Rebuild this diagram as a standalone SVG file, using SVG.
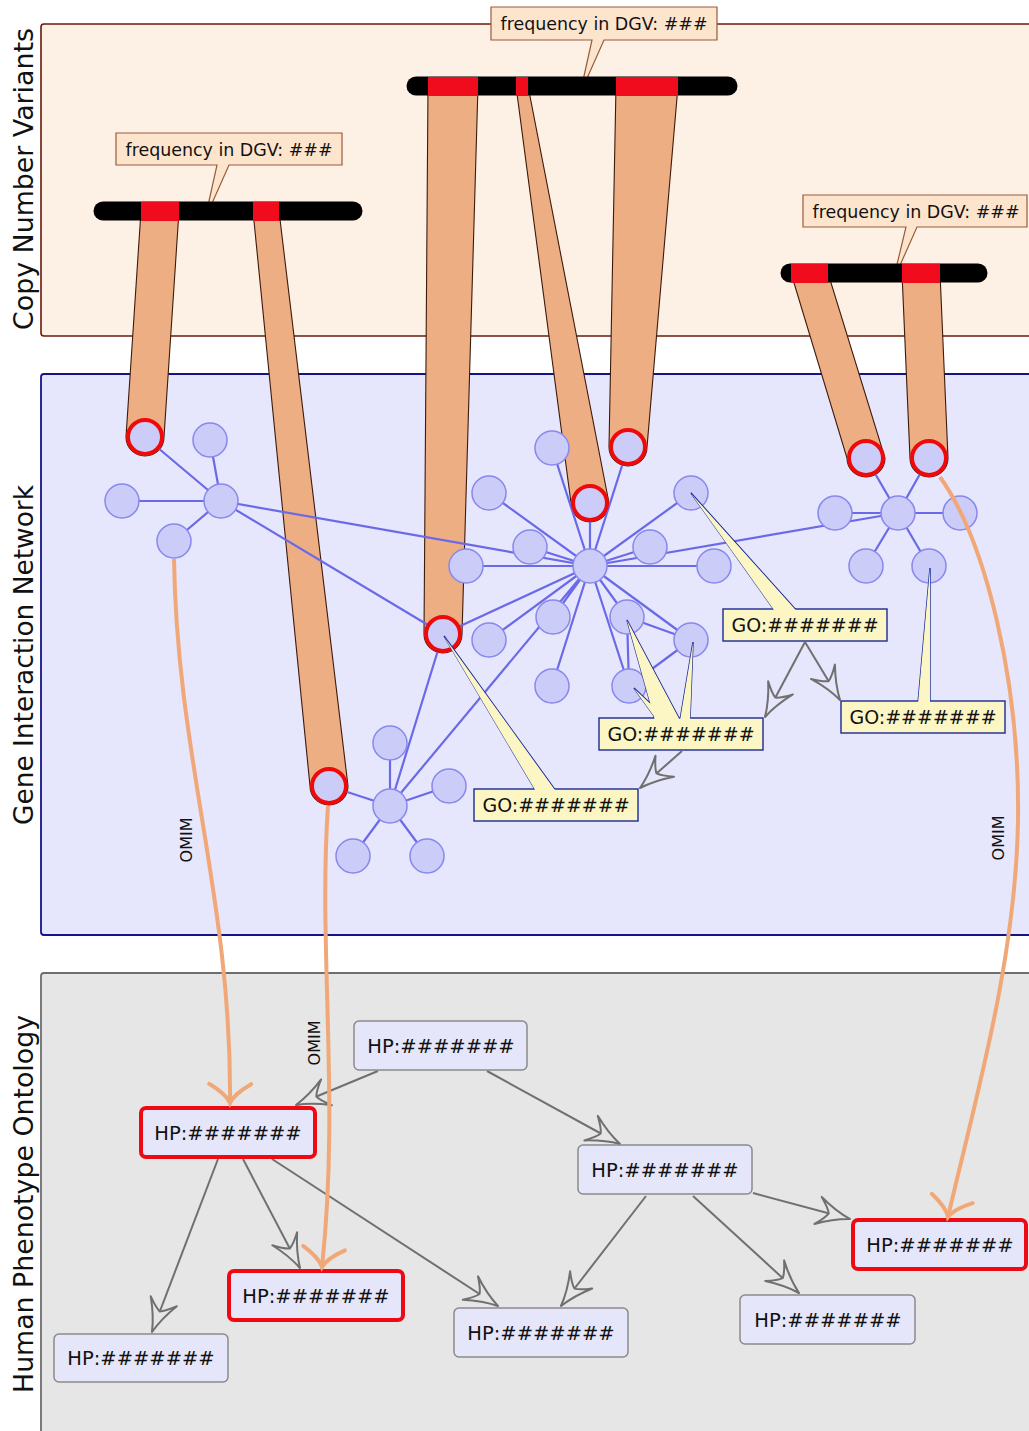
<svg xmlns="http://www.w3.org/2000/svg" width="1029" height="1431" viewBox="0 0 1029 1431">
  <style>
    text { font-family: "DejaVu Sans", "Liberation Sans", Arial, sans-serif; fill: #111; }
    .side { font-size: 26px; }
    .cnv-panel { fill: #fdf0e4; stroke: #6a1a0a; stroke-width: 1.6; }
    .gin-panel { fill: #e6e6fc; stroke: #14148a; stroke-width: 1.8; }
    .hpo-panel { fill: #e6e6e6; stroke: #6e6e6e; stroke-width: 1.8; }
    .tube { fill: #eeae84; stroke: #3c1a0c; stroke-width: 1.1; }
    .bar { stroke: #000; stroke-width: 19; stroke-linecap: round; }
    .seg { fill: #f00c1c; }
    .freq { fill: #fde5cd; stroke: #9a5a3a; stroke-width: 1.2; }
    .freq-t { font-size: 17.5px; }
    .edge { stroke: #6a6ae8; stroke-width: 2.2; fill: none; }
    .node { fill: #ccccf9; stroke: #8888ee; stroke-width: 1.5; }
    .hit { fill: #ccccf9; stroke: #ee0a0a; stroke-width: 4; }
    .go { fill: #fcf6c4; stroke: #1a2a96; stroke-width: 1.4; }
    .go-fill { fill: #fcf6c4; stroke: none; }
    .go-t { font-size: 19px; }
    .hp { fill: #e6e6fa; stroke: #8a8a8a; stroke-width: 1.5; }
    .hp-hit { fill: #e6e6fa; stroke: #ee0a14; stroke-width: 4; }
    .hp-t { font-size: 19.5px; }
    .isa { stroke: #707070; stroke-width: 2; fill: none; }
    .omim { stroke: #f0a878; stroke-width: 4; fill: none; }
    .omim-t { font-size: 16px; }
  </style>
  <defs>
    <marker id="isa-hp" markerUnits="userSpaceOnUse" viewBox="-36 -17 40 34" markerWidth="40" markerHeight="34" refX="0" refY="0" orient="auto" overflow="visible">
      <path d="M0,0 Q-16,-4 -33,-14 Q-24,-5 -22,0 Q-24,5 -33,14 Q-16,4 0,0 Z" fill="#e6e6e6" stroke="#707070" stroke-width="2" stroke-linejoin="round"/>
    </marker>
    <marker id="isa-go" markerUnits="userSpaceOnUse" viewBox="-36 -17 40 34" markerWidth="40" markerHeight="34" refX="0" refY="0" orient="auto" overflow="visible">
      <path d="M0,0 Q-16,-4 -33,-14 Q-24,-5 -22,0 Q-24,5 -33,14 Q-16,4 0,0 Z" fill="#e6e6fc" stroke="#707070" stroke-width="2" stroke-linejoin="round"/>
    </marker>
    <marker id="omim-head" markerUnits="userSpaceOnUse" viewBox="-24 -24 28 48" markerWidth="28" markerHeight="48" refX="0" refY="0" orient="auto" overflow="visible">
      <path d="M-19,-21 Q-9,-4 0,0 Q-9,4 -19,21" fill="none" stroke="#f0a878" stroke-width="4" stroke-linecap="round"/>
    </marker>
  </defs>

  <rect width="1029" height="1431" fill="#fff"/>

  <!-- layer panels -->
  <g id="panels">
    <rect class="cnv-panel" x="41" y="24" width="1100" height="312" rx="3"/>
    <rect class="gin-panel" x="41" y="374" width="1100" height="561" rx="3"/>
    <rect class="hpo-panel" x="41" y="973" width="1100" height="520" rx="3"/>
    <text class="side" transform="translate(33,179) rotate(-90)" text-anchor="middle" textLength="302" lengthAdjust="spacingAndGlyphs">Copy Number Variants</text>
    <text class="side" transform="translate(33,655) rotate(-90)" text-anchor="middle" textLength="340" lengthAdjust="spacingAndGlyphs">Gene Interaction Network</text>
    <text class="side" transform="translate(33,1204) rotate(-90)" text-anchor="middle" textLength="378" lengthAdjust="spacingAndGlyphs">Human Phenotype Ontology</text>
  </g>

  <!-- CNV bands projected onto affected genes -->
  <g id="tubes">
    <path class="tube" d="M141,211 L179,211 L164,437 A19,19 0 0 1 126,437 Z"/>
    <path class="tube" d="M253,211 L279,211 L348,786 A19,19 0 0 1 310,786 Z"/>
    <path class="tube" d="M428,86 L478,86 L462,634 A19,19 0 0 1 424,634 Z"/>
    <path class="tube" d="M516,86 L528,86 L609,503 A19,19 0 0 1 571,503 Z"/>
    <path class="tube" d="M616,86 L678,86 L647,447 A19,19 0 0 1 609,447 Z"/>
    <path class="tube" d="M791,273 L828,273 L885,458 A19,19 0 0 1 847,458 Z"/>
    <path class="tube" d="M902,273 L940,273 L948,458 A19,19 0 0 1 910,458 Z"/>
  </g>

  <!-- DGV frequency callouts -->
  <g id="freq-callouts">
    <g id="freq-1">
      <path class="freq" d="M491,7 H717 V40 H604 L580,94 L592,40 H491 Z"/>
      <text class="freq-t" x="604" y="30" text-anchor="middle" textLength="207" lengthAdjust="spacingAndGlyphs">frequency in DGV: ###</text>
    </g>
    <g id="freq-2">
      <path class="freq" d="M116,133 H342 V165 H229 L205,219 L217,165 H116 Z"/>
      <text class="freq-t" x="229" y="156" text-anchor="middle" textLength="207" lengthAdjust="spacingAndGlyphs">frequency in DGV: ###</text>
    </g>
    <g id="freq-3">
      <path class="freq" d="M803,195 H1027 V227 H917 L893,281 L906,227 H803 Z"/>
      <text class="freq-t" x="916" y="218" text-anchor="middle" textLength="207" lengthAdjust="spacingAndGlyphs">frequency in DGV: ###</text>
    </g>
  </g>

  <!-- chromosomes with CNV segments -->
  <g id="chromosomes">
    <g id="chr-1">
      <line class="bar" x1="103" y1="211" x2="353" y2="211"/>
      <rect class="seg" x="141" y="202" width="38" height="19"/>
      <rect class="seg" x="253" y="202" width="26" height="19"/>
    </g>
    <g id="chr-2">
      <line class="bar" x1="416" y1="86" x2="728" y2="86"/>
      <rect class="seg" x="428" y="77" width="50" height="19"/>
      <rect class="seg" x="516" y="77" width="12" height="19"/>
      <rect class="seg" x="616" y="77" width="62" height="19"/>
    </g>
    <g id="chr-3">
      <line class="bar" x1="790" y1="273" x2="978" y2="273"/>
      <rect class="seg" x="791" y="264" width="37" height="19"/>
      <rect class="seg" x="902" y="264" width="38" height="19"/>
    </g>
  </g>

  <!-- interaction edges -->
  <g id="interactions">
    <path class="edge" d="M221,501 L145,437 M221,501 L210,440 M221,501 L122,501 M221,501 L174,541
      M221,501 L590,566 M221,501 L443,634
      M590,566 L552,448 M590,566 L590,503 M590,566 L628,447 M590,566 L489,493 M590,566 L530,547
      M590,566 L466,566 M590,566 L650,547 M590,566 L691,493 M590,566 L714,566 M590,566 L443,634
      M590,566 L489,640 M590,566 L553,617 M590,566 L552,686 M590,566 L627,617 M590,566 L629,686
      M590,566 L691,640 M627,617 L691,640 M627,617 L629,686 M629,686 L691,640
      M590,566 L898,513 M590,566 L390,806 M443,634 L390,806
      M898,513 L866,458 M898,513 L929,458 M898,513 L835,513 M898,513 L960,513 M898,513 L866,566 M898,513 L929,566
      M390,806 L329,786 M390,806 L390,743 M390,806 L449,786 M390,806 L353,856 M390,806 L427,856"/>
  </g>

  <!-- genes -->
  <g id="genes">
    <g id="cluster-a">
      <circle class="node" cx="221" cy="501" r="17"/>
      <circle class="hit" cx="145" cy="437" r="17"/>
      <circle class="node" cx="210" cy="440" r="17"/>
      <circle class="node" cx="122" cy="501" r="17"/>
      <circle class="node" cx="174" cy="541" r="17"/>
    </g>
    <g id="cluster-b">
      <circle class="node" cx="590" cy="566" r="17"/>
      <circle class="node" cx="552" cy="448" r="17"/>
      <circle class="hit" cx="590" cy="503" r="17"/>
      <circle class="hit" cx="628" cy="447" r="17"/>
      <circle class="node" cx="489" cy="493" r="17"/>
      <circle class="node" cx="530" cy="547" r="17"/>
      <circle class="node" cx="466" cy="566" r="17"/>
      <circle class="node" cx="650" cy="547" r="17"/>
      <circle class="node" cx="691" cy="493" r="17"/>
      <circle class="node" cx="714" cy="566" r="17"/>
      <circle class="hit" cx="443" cy="634" r="17"/>
      <circle class="node" cx="489" cy="640" r="17"/>
      <circle class="node" cx="553" cy="617" r="17"/>
      <circle class="node" cx="552" cy="686" r="17"/>
      <circle class="node" cx="627" cy="617" r="17"/>
      <circle class="node" cx="629" cy="686" r="17"/>
      <circle class="node" cx="691" cy="640" r="17"/>
    </g>
    <g id="cluster-c">
      <circle class="node" cx="898" cy="513" r="17"/>
      <circle class="hit" cx="866" cy="458" r="17"/>
      <circle class="hit" cx="929" cy="458" r="17"/>
      <circle class="node" cx="835" cy="513" r="17"/>
      <circle class="node" cx="960" cy="513" r="17"/>
      <circle class="node" cx="866" cy="566" r="17"/>
      <circle class="node" cx="929" cy="566" r="17"/>
    </g>
    <g id="cluster-d">
      <circle class="node" cx="390" cy="806" r="17"/>
      <circle class="hit" cx="329" cy="786" r="17"/>
      <circle class="node" cx="390" cy="743" r="17"/>
      <circle class="node" cx="449" cy="786" r="17"/>
      <circle class="node" cx="353" cy="856" r="17"/>
      <circle class="node" cx="427" cy="856" r="17"/>
    </g>
  </g>

  <!-- GO term annotations: pointer wedges, then boxes, then wedge fills over box edges -->
  <g id="go-terms">
    <g id="go-1">
      <path class="go" d="M691,493 L775,611 L797,611 Z"/>
      <rect class="go" x="723" y="609" width="164" height="32"/>
      <path class="go-fill" d="M691,493 L775,611 L797,611 Z" transform="translate(0,0.5)"/>
      <text class="go-t" x="805" y="632" text-anchor="middle">GO:#######</text>
    </g>
    <g id="go-2">
      <path class="go" d="M627,620 L655,720 L680,720 Z M634,688 L657,720 L668,720 Z M693,642 L680,720 L690,720 Z"/>
      <rect class="go" x="599" y="718" width="164" height="32"/>
      <path class="go-fill" d="M627,620 L655,720 L680,720 Z M634,688 L657,720 L668,720 Z M693,642 L680,720 L690,720 Z" transform="translate(0,0.5)"/>
      <text class="go-t" x="681" y="741" text-anchor="middle">GO:#######</text>
    </g>
    <g id="go-3">
      <path class="go" d="M930,568 L918,703 L930,703 Z"/>
      <rect class="go" x="841" y="701" width="164" height="32"/>
      <path class="go-fill" d="M930,568 L918,703 L930,703 Z" transform="translate(0,0.5)"/>
      <text class="go-t" x="923" y="724" text-anchor="middle">GO:#######</text>
    </g>
    <g id="go-4">
      <path class="go" d="M444,636 L536,791 L556,791 Z"/>
      <rect class="go" x="474" y="789" width="164" height="32"/>
      <path class="go-fill" d="M444,636 L536,791 L556,791 Z" transform="translate(0,0.5)"/>
      <text class="go-t" x="556" y="812" text-anchor="middle">GO:#######</text>
    </g>
  </g>

  <!-- GO is-a relations -->
  <g id="go-relations">
    <path class="isa" d="M805,642 L765,717" marker-end="url(#isa-go)"/>
    <path class="isa" d="M805,642 L840,700" marker-end="url(#isa-go)"/>
    <path class="isa" d="M682,751 L640,788" marker-end="url(#isa-go)"/>
  </g>

  <!-- HPO is-a relations -->
  <g id="hp-relations">
    <path class="isa" d="M378,1071 L296,1105" marker-end="url(#isa-hp)"/>
    <path class="isa" d="M487,1071 L620,1144" marker-end="url(#isa-hp)"/>
    <path class="isa" d="M218,1159 L152,1332" marker-end="url(#isa-hp)"/>
    <path class="isa" d="M243,1159 L300,1268" marker-end="url(#isa-hp)"/>
    <path class="isa" d="M272,1159 L498,1306" marker-end="url(#isa-hp)"/>
    <path class="isa" d="M646,1196 L561,1306" marker-end="url(#isa-hp)"/>
    <path class="isa" d="M693,1196 L799,1293" marker-end="url(#isa-hp)"/>
    <path class="isa" d="M753,1193 L850,1219" marker-end="url(#isa-hp)"/>
  </g>

  <!-- HPO terms -->
  <g id="hp-terms">
    <g id="hp-1">
      <rect class="hp" x="354" y="1021" width="173" height="49" rx="5"/>
      <text class="hp-t" x="441" y="1053" text-anchor="middle">HP:#######</text>
    </g>
    <g id="hp-2">
      <rect class="hp-hit" x="141" y="1108" width="174" height="49" rx="5"/>
      <text class="hp-t" x="228" y="1140" text-anchor="middle">HP:#######</text>
    </g>
    <g id="hp-3">
      <rect class="hp" x="578" y="1145" width="174" height="49" rx="5"/>
      <text class="hp-t" x="665" y="1177" text-anchor="middle">HP:#######</text>
    </g>
    <g id="hp-4">
      <rect class="hp-hit" x="853" y="1220" width="173" height="49" rx="5"/>
      <text class="hp-t" x="940" y="1252" text-anchor="middle">HP:#######</text>
    </g>
    <g id="hp-5">
      <rect class="hp" x="54" y="1334" width="174" height="48" rx="5"/>
      <text class="hp-t" x="141" y="1365" text-anchor="middle">HP:#######</text>
    </g>
    <g id="hp-6">
      <rect class="hp-hit" x="229" y="1271" width="174" height="49" rx="5"/>
      <text class="hp-t" x="316" y="1303" text-anchor="middle">HP:#######</text>
    </g>
    <g id="hp-7">
      <rect class="hp" x="454" y="1308" width="174" height="49" rx="5"/>
      <text class="hp-t" x="541" y="1340" text-anchor="middle">HP:#######</text>
    </g>
    <g id="hp-8">
      <rect class="hp" x="740" y="1295" width="175" height="49" rx="5"/>
      <text class="hp-t" x="828" y="1327" text-anchor="middle">HP:#######</text>
    </g>
  </g>

  <!-- OMIM gene-to-phenotype links -->
  <g id="omim-links">
    <path class="omim" d="M174,559 C177,760 232,900 230,1103" marker-end="url(#omim-head)"/>
    <path class="omim" d="M328,806 C318,950 340,1100 322,1267" marker-end="url(#omim-head)"/>
    <path class="omim" d="M940,477 C985,540 1020,680 1018,820 C1016,960 975,1100 948,1217" marker-end="url(#omim-head)"/>
    <text class="omim-t" transform="translate(192,840) rotate(-90)" text-anchor="middle">OMIM</text>
    <text class="omim-t" transform="translate(320,1043) rotate(-90)" text-anchor="middle">OMIM</text>
    <text class="omim-t" transform="translate(1004,838) rotate(-90)" text-anchor="middle">OMIM</text>
  </g>
</svg>
